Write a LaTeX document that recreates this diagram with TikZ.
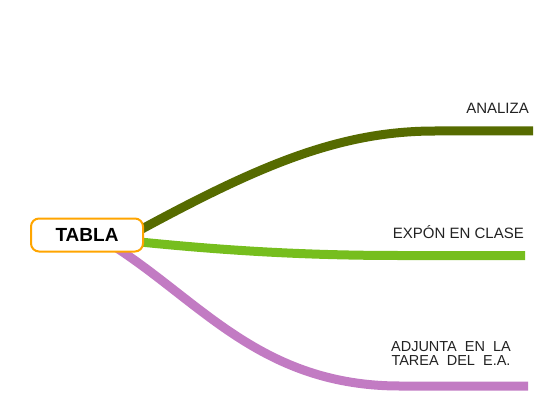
\documentclass[tikz,border=0pt]{standalone}
\usepackage{fontspec}
\setmainfont{Liberation Sans}
\usetikzlibrary{backgrounds}
\definecolor{olive}{HTML}{566B00}
\definecolor{lgreen}{HTML}{76BE1E}
\definecolor{purp}{HTML}{C27BC3}
\definecolor{orng}{HTML}{FFA500}
\definecolor{txt}{HTML}{222222}
\tikzset{
  topic/.style={draw=orng, line width=2pt, fill=white, rounded corners=8pt,
    minimum width=112pt, minimum height=33pt, inner sep=0pt,
    font=\fontsize{19}{22}\selectfont\bfseries, text=black},
  branch/.style={line width=9pt, line cap=butt},
  lbl/.style={font=\fontsize{15}{16}\selectfont, text=txt, inner sep=0pt},
}
\begin{document}
\begin{tikzpicture}[x=1pt,y=-1pt]
\useasboundingbox (0,0) rectangle (545,406);
\node[topic] (tabla) at (87,235) {TABLA};
\coordinate (a0) at ([shift={(-4,-5)}]tabla.east);
\coordinate (a1) at (435,131);
\coordinate (a2) at (533,131);
\coordinate (b0) at ([shift={(-4,7)}]tabla.east);
\coordinate (b1) at (400,255.5);
\coordinate (b2) at (525,255.5);
\coordinate (c0) at ([shift={(-35,8)}]tabla.east);
\coordinate (c1) at (400,386);
\coordinate (c2) at (528,386);
\begin{scope}[on background layer]
\draw[branch, olive] (a0) .. controls (260,165) and (340,131) .. (a1) -- (a2);
\draw[branch, lgreen] (b0) .. controls (220,250) and (300,255.5) .. (b1) -- (b2);
\draw[branch, purp] (c0) .. controls (200,300) and (260,386) .. (c1) -- (c2);
\end{scope}
\node[lbl, anchor=east] (la) at (529,108) {ANALIZA};
\node[lbl, anchor=east] (lb) at (524,232) {EXPÓN EN CLASE};
\node[lbl, align=center, font=\fontsize{14.5}{14}\selectfont] (lc) at (451,354) {ADJUNTA\ \ EN\ \ LA\\TAREA\ \ DEL\ \ E.A.};
\end{tikzpicture}
\end{document}
